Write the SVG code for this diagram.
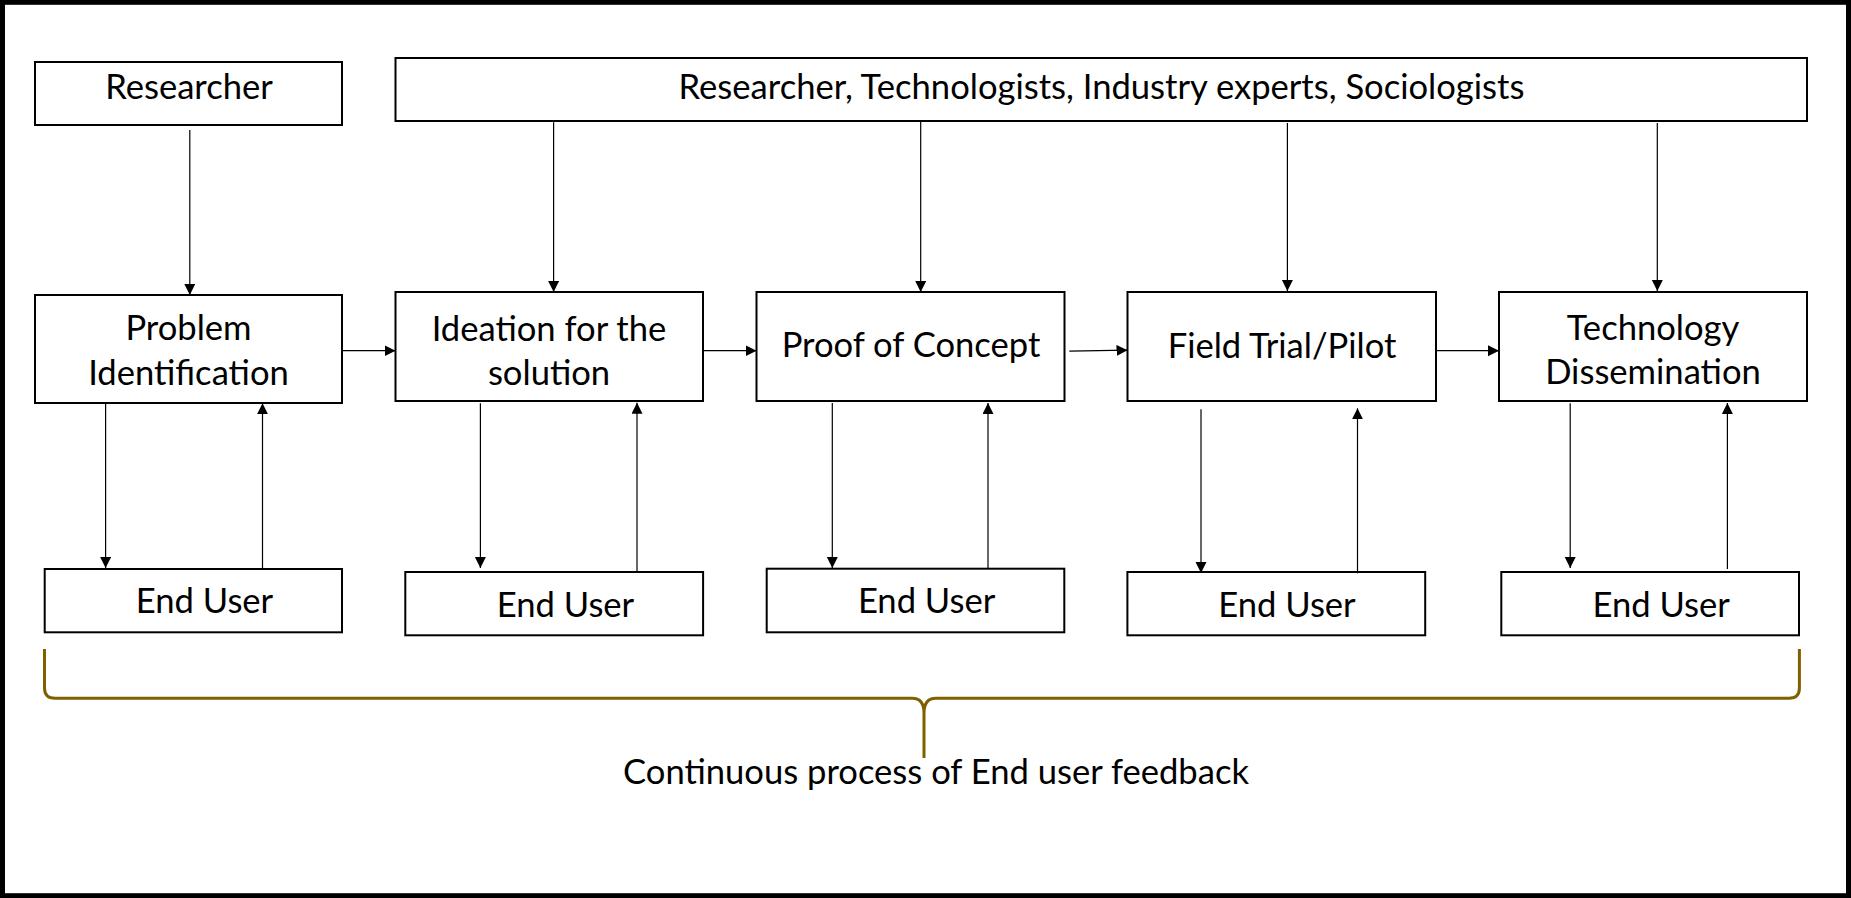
<svg xmlns="http://www.w3.org/2000/svg" width="1851" height="898" viewBox="0 0 1851 898">
<defs>
<style>
.box{fill:#fff;stroke:#000;stroke-width:2}
.lbl{font-family:Lato,"Open Sans","Liberation Sans",sans-serif;font-size:34.6px;fill:#000;text-anchor:middle}
.con{stroke:#000;stroke-width:1.2;fill:none}
.arr{marker-end:url(#ah)}
</style>
<marker id="ah" markerUnits="userSpaceOnUse" markerWidth="12" markerHeight="12" refX="11" refY="5.5" orient="auto">
<path d="M0,0 L11,5.5 L0,11 z" fill="#000"/>
</marker>
</defs>
<rect x="2.5" y="2.3" width="1846" height="893.4" fill="#fff" stroke="#000" stroke-width="5"/>

<g id="researcher"><rect class="box" x="35" y="62" width="307" height="63"/><text class="lbl" x="189" y="99">Researcher</text></g>
<g id="experts"><rect class="box" x="395.5" y="58" width="1411.5" height="63"/><text class="lbl" x="1101.5" y="99">Researcher, Technologists, Industry experts, Sociologists</text></g>

<g id="problem"><rect class="box" x="35" y="295" width="307" height="108"/><text class="lbl" x="188.5" y="340">Problem</text><text class="lbl" x="188.5" y="385">Identification</text></g>
<g id="ideation"><rect class="box" x="395.5" y="292" width="307.5" height="109"/><text class="lbl" x="549" y="340.5">Ideation for the</text><text class="lbl" x="549" y="385">solution</text></g>
<g id="poc"><rect class="box" x="756.5" y="292" width="308" height="109"/><text class="lbl" x="911" y="356.5">Proof of Concept</text></g>
<g id="field"><rect class="box" x="1127.5" y="292" width="308.5" height="109"/><text class="lbl" x="1282" y="358">Field Trial/Pilot</text></g>
<g id="tech"><rect class="box" x="1499" y="292" width="308" height="109"/><text class="lbl" x="1653" y="340">Technology</text><text class="lbl" x="1653" y="384">Dissemination</text></g>

<g id="eu1"><rect class="box" x="44.7" y="569" width="297.3" height="63.3"/><text class="lbl" x="204.5" y="613.3">End User</text></g>
<g id="eu2"><rect class="box" x="405.3" y="572" width="297.8" height="63.3"/><text class="lbl" x="565.5" y="616.7">End User</text></g>
<g id="eu3"><rect class="box" x="766.7" y="568.7" width="297.6" height="63.6"/><text class="lbl" x="926.6" y="613.3">End User</text></g>
<g id="eu4"><rect class="box" x="1127.4" y="572" width="297.8" height="63.3"/><text class="lbl" x="1287" y="616.7">End User</text></g>
<g id="eu5"><rect class="box" x="1501.3" y="572" width="297.7" height="63.3"/><text class="lbl" x="1661.2" y="616.7">End User</text></g>

<g id="connectors">
<line class="con arr" x1="189.8" y1="130" x2="189.8" y2="295"/>
<line class="con arr" x1="553.6" y1="122.3" x2="553.6" y2="292"/>
<line class="con arr" x1="920.7" y1="122" x2="920.7" y2="292"/>
<line class="con arr" x1="1287.4" y1="123" x2="1287.4" y2="291"/>
<line class="con arr" x1="1657.3" y1="123" x2="1657.3" y2="291"/>

<line class="con arr" x1="342" y1="350.7" x2="395.5" y2="350.7"/>
<line class="con arr" x1="703" y1="350.7" x2="756.5" y2="350.7"/>
<line class="con arr" x1="1069.3" y1="351.2" x2="1127.5" y2="350.2"/>
<line class="con arr" x1="1436" y1="350.7" x2="1499" y2="350.7"/>

<line class="con arr" x1="105.6" y1="404" x2="105.6" y2="568"/>
<line class="con arr" x1="262.5" y1="568.3" x2="262.5" y2="403.3"/>
<line class="con arr" x1="480.4" y1="403.3" x2="480.4" y2="568"/>
<line class="con arr" x1="637" y1="571" x2="637" y2="402.7"/>
<line class="con arr" x1="832.3" y1="403" x2="832.3" y2="568"/>
<line class="con arr" x1="988" y1="568" x2="988" y2="403"/>
<line class="con arr" x1="1201" y1="409.3" x2="1201" y2="573"/>
<line class="con arr" x1="1357.5" y1="573.3" x2="1357.5" y2="408.3"/>
<line class="con arr" x1="1570.2" y1="403.3" x2="1570.2" y2="568"/>
<line class="con arr" x1="1727.4" y1="569" x2="1727.4" y2="403"/>
</g>

<g id="feedback">
<path d="M44.5,649 L44.5,688 Q44.5,698.3 55,698.3 L912,698.3 Q924,698.3 924,713 L924,758 M924,713 Q924,698.3 936,698.3 L1789,698.3 Q1799.4,698.3 1799.4,688 L1799.4,649" fill="none" stroke="#7F6000" stroke-width="3"/>
<text class="lbl" x="936" y="784">Continuous process of End user feedback</text>
</g>
</svg>
